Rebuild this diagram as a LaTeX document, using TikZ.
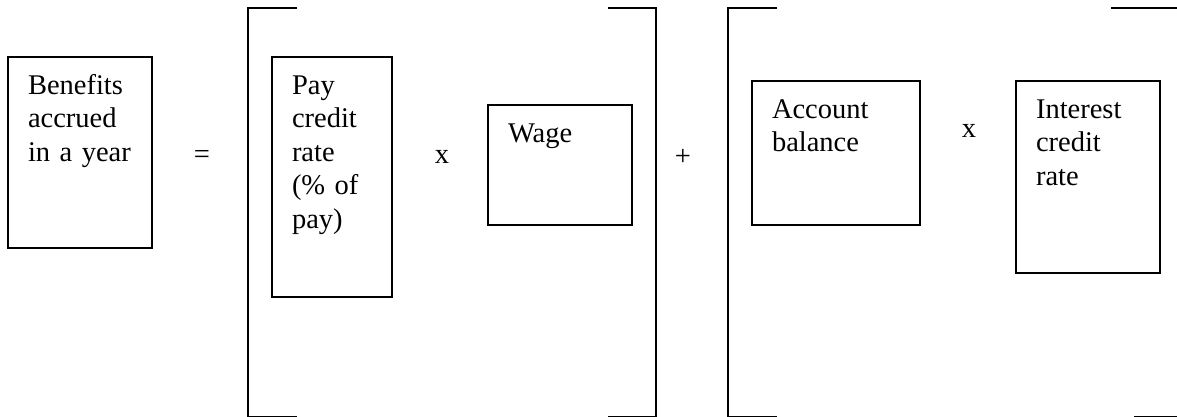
\documentclass[tikz,border=0pt]{standalone}
\usepackage{fontspec}
\setmainfont{Liberation Serif}
\usetikzlibrary{positioning}
\tikzset{
    every node/.style={font=\fontsize{28.5}{33.5}\selectfont}, % Times-like text
    term/.style={draw, line width=1.5pt, anchor=north west, outer sep=0pt,
        inner xsep=20pt, inner ysep=0pt, text height=37pt, align=left}, % Boxed terms
    op/.style={inner sep=0pt}, % Operators between the terms
    bracket/.style={line width=1.5pt}, % Square brackets
}

\begin{document}
\begin{tikzpicture}[x=1pt, y=-1pt]
    \useasboundingbox (0,0) rectangle (1177,416);

    \node[term, text width=104pt, text depth=154pt] (benefits) at (8,57) {Benefits\\accrued\\in a year};
    \node[term, text width=80pt, text depth=203pt] (payrate) at (272,57) {Pay\\credit\\rate\\(\% of\\pay)};
    \node[term, text width=104pt, text depth=83pt] (wage) at (488,105) {Wage};
    \node[term, text width=128pt, text depth=107pt] (balance) at (752,81) {Account\\balance};
    \node[term, text width=104pt, text depth=155pt] (intrate) at (1016,81) {Interest\\credit\\rate};

    \node[op] (equals) at (202,157) {=};
    \node[op] (times1) at (442,157) {x};
    \node[op] (plus) at (683,157) {+};
    \node[op] (times2) at (969,131) {x};

    % brackets round the two products
    \draw[bracket] (297,8) -- (248,8) -- (248,416.4) -- (297,416.4);
    \draw[bracket] (608,8) -- (656,8) -- (656,416.4) -- (608,416.4);
    \draw[bracket] (777,8) -- (728,8) -- (728,416.4) -- (777,416.4);
    \draw[bracket] (1111,8) -- (1182,8) -- (1182,416.4) -- (1134,416.4);
\end{tikzpicture}
\end{document}
